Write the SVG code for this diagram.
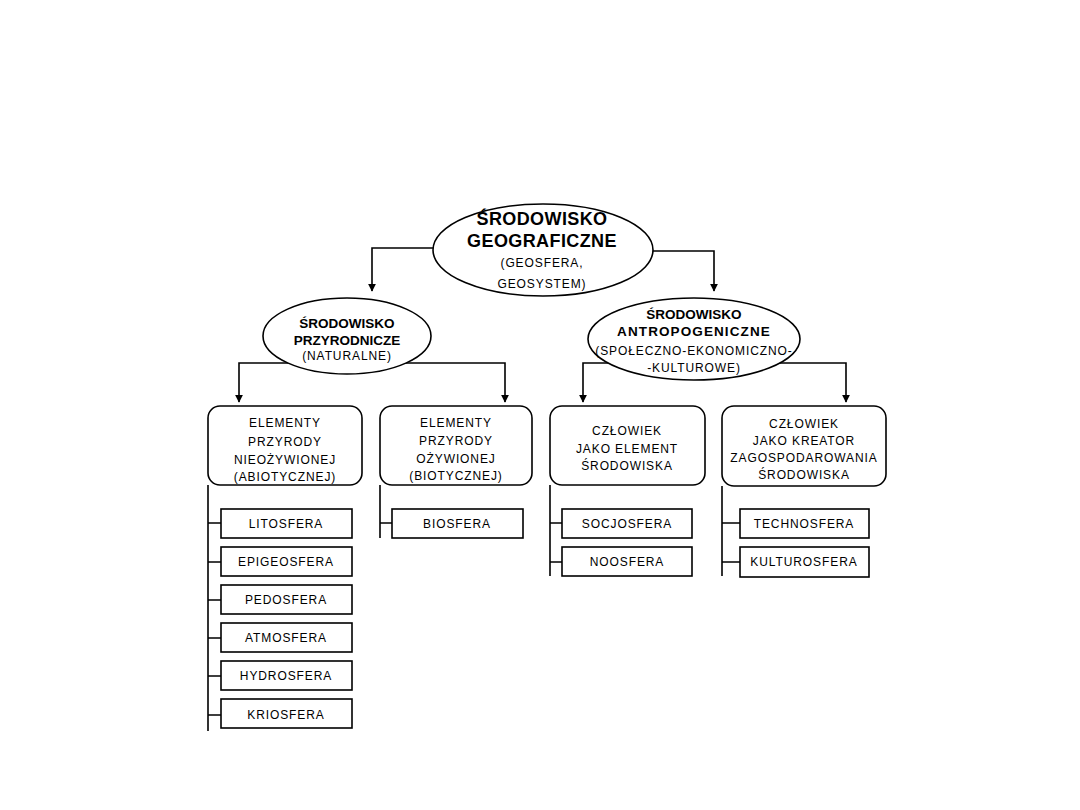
<svg xmlns="http://www.w3.org/2000/svg" width="1080" height="810" viewBox="0 0 1080 810">
<style>
.sh{fill:#fff;stroke:#000;stroke-width:1.6}
.ln{fill:none;stroke:#000;stroke-width:1.6}
.t{font-family:"Liberation Sans",Arial,sans-serif;font-size:12px;letter-spacing:0.9px;fill:#000;text-anchor:middle}
.b1{font-family:"Liberation Sans",Arial,sans-serif;font-size:18px;letter-spacing:0.4px;font-weight:bold;fill:#000;text-anchor:middle}
.b2{font-family:"Liberation Sans",Arial,sans-serif;font-size:13.5px;font-weight:bold;fill:#000;text-anchor:middle}
</style>
<defs>
<marker id="ah" viewBox="0 0 10 10" refX="9" refY="5" markerWidth="5" markerHeight="5.5" orient="auto" markerUnits="strokeWidth">
<path d="M0,0 L10,5 L0,10 z" fill="#000"/>
</marker>
</defs>
<rect width="1080" height="810" fill="#fff"/>
<g id="connectors">
<path class="ln" d="M435,248 H372 V291" marker-end="url(#ah)"/>
<path class="ln" d="M649,251 H714 V291" marker-end="url(#ah)"/>
<path class="ln" d="M300,363 H239 V402" marker-end="url(#ah)"/>
<path class="ln" d="M396,363 H505 V402" marker-end="url(#ah)"/>
<path class="ln" d="M614,363 H583 V402" marker-end="url(#ah)"/>
<path class="ln" d="M772,363 H846 V402" marker-end="url(#ah)"/>
<path class="ln" d="M208,485 V731 M208,523 H221 M208,562 H221 M208,600 H221 M208,638 H221 M208,676 H221 M208,715 H221"/>
<path class="ln" d="M380,485 V538 M380,523 H392"/>
<path class="ln" d="M550,485 V576 M550,523 H562 M550,562 H562"/>
<path class="ln" d="M722,486 V576 M722,523 H740 M722,562 H740"/>
</g>
<g id="geo">
<ellipse class="sh" cx="543" cy="250" rx="110" ry="46"/>
<text class="b1" x="542" y="225">ŚRODOWISKO</text>
<text class="b1" x="542" y="247">GEOGRAFICZNE</text>
<text class="t" x="542" y="267">(GEOSFERA,</text>
<text class="t" x="542" y="288">GEOSYSTEM)</text>
</g>
<g id="przyrodnicze">
<ellipse class="sh" cx="347" cy="336" rx="84" ry="38"/>
<text class="b2" x="347" y="328">ŚRODOWISKO</text>
<text class="b2" x="347" y="345">PRZYRODNICZE</text>
<text class="t" x="347" y="360">(NATURALNE)</text>
</g>
<g id="antropogeniczne">
<ellipse class="sh" cx="694" cy="339" rx="106" ry="41"/>
<text class="b2" x="694" y="319">ŚRODOWISKO</text>
<text class="b2" x="694" y="336" style="letter-spacing:1.1px">ANTROPOGENICZNE</text>
<text class="t" x="694" y="355">(SPOŁECZNO-EKONOMICZNO-</text>
<text class="t" x="694" y="372">-KULTUROWE)</text>
</g>
<g id="abiotyczne">
<rect class="sh" x="208" y="406" width="154" height="79" rx="12"/>
<text class="t" x="285" y="427">ELEMENTY</text>
<text class="t" x="285" y="446">PRZYRODY</text>
<text class="t" x="285" y="464">NIEOŻYWIONEJ</text>
<text class="t" x="285" y="481">(ABIOTYCZNEJ)</text>
</g>
<g id="biotyczne">
<rect class="sh" x="380" y="406" width="152" height="79" rx="12"/>
<text class="t" x="456" y="427">ELEMENTY</text>
<text class="t" x="456" y="445">PRZYRODY</text>
<text class="t" x="456" y="463">OŻYWIONEJ</text>
<text class="t" x="456" y="480">(BIOTYCZNEJ)</text>
</g>
<g id="czlowiek-element">
<rect class="sh" x="550" y="406" width="155" height="79" rx="12"/>
<text class="t" x="627" y="435">CZŁOWIEK</text>
<text class="t" x="627" y="453">JAKO ELEMENT</text>
<text class="t" x="627" y="470">ŚRODOWISKA</text>
</g>
<g id="czlowiek-kreator">
<rect class="sh" x="722" y="406" width="164" height="80" rx="12"/>
<text class="t" x="804" y="428">CZŁOWIEK</text>
<text class="t" x="804" y="445">JAKO KREATOR</text>
<text class="t" x="804" y="462">ZAGOSPODAROWANIA</text>
<text class="t" x="804" y="479">ŚRODOWISKA</text>
</g>
<g id="litosfera"><rect class="sh" x="221" y="509" width="131" height="29"/><text class="t" x="286" y="528">LITOSFERA</text></g>
<g id="epigeosfera"><rect class="sh" x="221" y="547" width="131" height="29"/><text class="t" x="286" y="566">EPIGEOSFERA</text></g>
<g id="pedosfera"><rect class="sh" x="221" y="585" width="131" height="29"/><text class="t" x="286" y="604">PEDOSFERA</text></g>
<g id="atmosfera"><rect class="sh" x="221" y="623" width="131" height="29"/><text class="t" x="286" y="642">ATMOSFERA</text></g>
<g id="hydrosfera"><rect class="sh" x="221" y="661" width="131" height="29"/><text class="t" x="286" y="680">HYDROSFERA</text></g>
<g id="kriosfera"><rect class="sh" x="221" y="699" width="131" height="29"/><text class="t" x="286" y="719">KRIOSFERA</text></g>
<g id="biosfera"><rect class="sh" x="392" y="509" width="131" height="29"/><text class="t" x="457" y="528">BIOSFERA</text></g>
<g id="socjosfera"><rect class="sh" x="562" y="509" width="130" height="29"/><text class="t" x="627" y="528">SOCJOSFERA</text></g>
<g id="noosfera"><rect class="sh" x="562" y="547" width="130" height="29"/><text class="t" x="627" y="566">NOOSFERA</text></g>
<g id="technosfera"><rect class="sh" x="740" y="509" width="129" height="29"/><text class="t" x="804" y="528">TECHNOSFERA</text></g>
<g id="kulturosfera"><rect class="sh" x="740" y="547" width="129" height="30"/><text class="t" x="804" y="566">KULTUROSFERA</text></g>
</svg>
